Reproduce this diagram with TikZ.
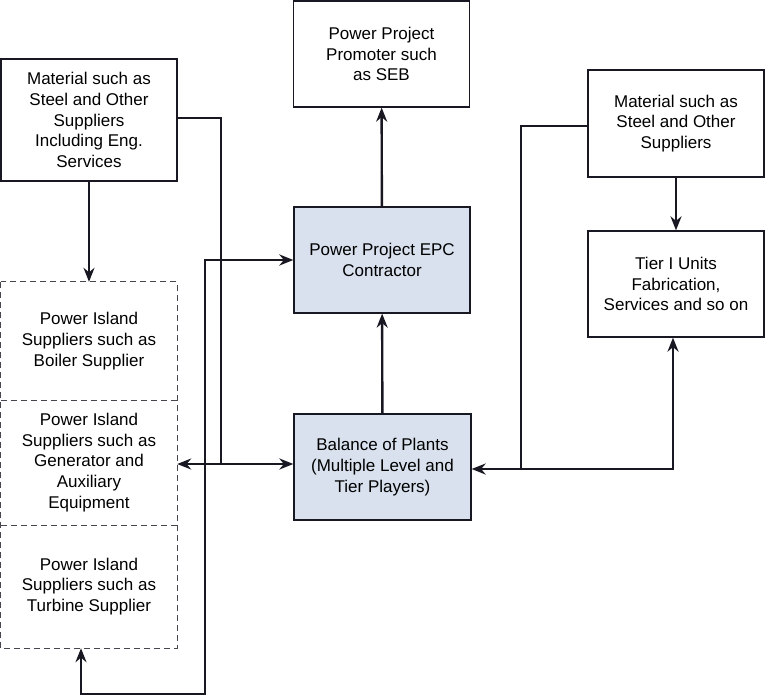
\documentclass[tikz,border=0pt]{standalone}
\usepackage{fontspec}
\setmainfont{Liberation Sans}
\usetikzlibrary{arrows.meta,positioning,calc}
\definecolor{cFill}{RGB}{216,225,237}
\definecolor{cLine}{RGB}{24,24,34}

\begin{document}
\begin{tikzpicture}[
  x=1pt,y=-1pt,
  box/.style={draw=cLine,line width=1.3pt,minimum width=176pt,minimum height=106pt,
              align=center,font=\fontsize{17}{20.7}\selectfont,inner sep=0pt},
  epcbox/.style={box,fill=cFill},
  isl/.style={minimum width=176pt,align=center,font=\fontsize{17}{20.7}\selectfont,inner sep=0pt},
  part/.style={draw=cLine!80,line width=1.3pt,dash pattern=on 6pt off 4pt},
  flow/.style={-{Stealth[length=14pt,width=11pt]},cLine,line width=2.4pt},
  both/.style={{Stealth[length=14pt,width=11pt]}-{Stealth[length=14pt,width=11pt]},cLine,line width=2.4pt},
  link/.style={cLine,line width=2.4pt},
]
\useasboundingbox (0,0) rectangle (765,696);
% main chain
\node[box,minimum height=106pt] (prom) at (381.5,54) {Power Project\\Promoter such\\as SEB};
\node[epcbox] (epc) at (382,260) {Power Project EPC\\Contractor};
\node[epcbox,minimum width=177pt] (bop) at (382.5,467) {Balance of Plants\\(Multiple Level and\\Tier Players)};
% material suppliers
\node[box,minimum height=122pt] (matl) at (89,120) {Material such as\\Steel and Other\\Suppliers\\Including Eng.\\Services};
\node[box,minimum height=107pt] (matr) at (676,123.5) {Material such as\\Steel and Other\\Suppliers};
\node[box] (tier) at (676,284) {Tier I Units\\Fabrication,\\Services and so on};
% power island suppliers (dashed column)
\node[isl,minimum height=118pt] (isl1) at (89,341) {Power Island\\Suppliers such as\\Boiler Supplier};
\node[isl,minimum height=125pt] (isl2) at (89,462.5) {Power Island\\Suppliers such as\\Generator and\\Auxiliary\\Equipment};
\node[isl,minimum height=123pt] (isl3) at (89,586.5) {Power Island\\Suppliers such as\\Turbine Supplier};
\draw[part] (isl1.north west) rectangle (isl3.south east);
\draw[part] (isl1.south west) -- (isl1.south east);
\draw[part] (isl2.south west) -- (isl2.south east);
% junction points
\coordinate (jl) at (221,464);
\coordinate (jr) at (521,469);
\coordinate (lb) at (81,694);
\coordinate (rb) at (205,694);
% connectors
\draw[flow] (epc) -- (prom);
\draw[flow] (bop) -- (epc);
\draw[flow] (matl) -- (isl1);
\draw[flow] (matr) -- (tier);
\draw[link] (matl.east |- 0,118) -| (jl);
\draw[both] (isl2.east |- jl) -- (bop.west |- jl);
\draw[both] (lb |- isl3.south) -- (lb) -- (rb) |- (epc.west);
\draw[link] (matr.west |- 0,126) -| (jr);
\draw[both] (bop.east |- jr) -| ([xshift=-3pt]tier.south);
\end{tikzpicture}
\end{document}
